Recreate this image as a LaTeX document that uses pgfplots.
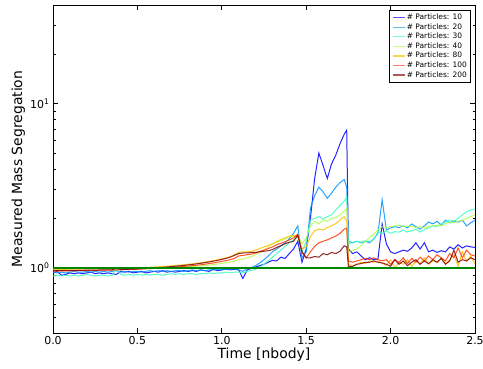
\documentclass[border=0pt]{standalone}
\usepackage{fontspec}
\setmainfont{DejaVu Sans}
\usepackage{pgfplots}
\usepackage{pgfplotstable}
\pgfplotsset{compat=1.18}
\definecolor{c10}{rgb}{0,0,1}
\definecolor{c20}{rgb}{0,0.58,1}
\definecolor{c30}{rgb}{0.22,1,0.75}
\definecolor{c40}{rgb}{0.69,1,0.28}
\definecolor{c80}{rgb}{1,0.75,0}
\definecolor{c100}{rgb}{1,0.21,0}
\definecolor{c200}{rgb}{0.5,0,0}
\definecolor{gline}{RGB}{0,135,0}
\pgfplotsset{legend image code/.code={\draw[#1, line width=1.3bp, opacity=0.65] (0bp,0bp) -- (12bp,0bp);}}
\pgfplotstableread{
t     p10  p20  p30  p40   p80   p100  p200
0.000 0.93 0.94 0.89 0.985 0.975 0.955 0.96
0.025 0.95 0.93 0.90 0.985 0.975 0.955 0.96
0.050 0.90 0.94 0.89 0.985 0.977 0.956 0.96
0.075 0.91 0.93 0.90 0.986 0.978 0.957 0.961
0.100 0.93 0.94 0.89 0.986 0.979 0.958 0.962
0.125 0.92 0.95 0.90 0.987 0.980 0.959 0.963
0.150 0.93 0.94 0.89 0.987 0.981 0.960 0.964
0.175 0.92 0.94 0.90 0.988 0.982 0.961 0.965
0.200 0.93 0.95 0.91 0.988 0.983 0.962 0.966
0.225 0.94 0.94 0.90 0.989 0.984 0.963 0.967
0.250 0.92 0.95 0.89 0.989 0.985 0.964 0.968
0.275 0.93 0.94 0.90 0.990 0.986 0.965 0.969
0.300 0.92 0.95 0.90 0.990 0.987 0.966 0.970
0.325 0.93 0.94 0.89 0.990 0.988 0.967 0.971
0.350 0.92 0.95 0.90 0.991 0.989 0.968 0.972
0.375 0.91 0.96 1.00 0.991 0.990 0.970 0.990
0.400 0.95 0.94 0.91 0.992 0.991 0.971 0.975
0.425 0.94 0.95 0.90 0.992 0.992 0.973 0.977
0.450 0.95 0.94 0.91 0.993 0.994 0.975 0.979
0.475 0.93 0.95 0.90 0.993 0.996 0.977 0.981
0.500 0.94 0.95 0.91 0.994 0.998 0.979 0.984
0.525 0.95 0.94 0.90 0.995 1.001 0.982 0.987
0.550 0.93 0.95 0.91 0.996 1.004 0.985 0.990
0.575 0.94 0.96 0.90 0.997 1.007 0.988 0.994
0.600 0.95 0.95 0.91 0.998 1.010 0.991 0.998
0.625 0.94 0.96 0.91 0.999 1.014 0.994 1.002
0.650 0.96 0.95 0.90 1.000 1.018 0.998 1.006
0.675 0.94 0.96 0.91 1.002 1.022 1.002 1.011
0.700 0.95 0.95 0.92 1.004 1.027 1.006 1.016
0.725 0.94 0.96 0.91 1.006 1.032 1.010 1.021
0.750 0.95 0.96 0.92 1.008 1.037 1.014 1.027
0.775 0.96 0.95 0.91 1.011 1.043 1.019 1.033
0.800 0.95 0.96 0.92 1.014 1.049 1.024 1.040
0.825 0.96 0.97 0.92 1.018 1.056 1.030 1.047
0.850 0.95 0.96 0.91 1.022 1.064 1.036 1.055
0.875 0.97 0.97 0.92 1.027 1.073 1.043 1.064
0.900 0.96 0.96 0.92 1.032 1.083 1.051 1.074
0.925 0.95 0.97 0.93 1.038 1.094 1.060 1.085
0.950 0.98 0.97 0.92 1.045 1.106 1.070 1.097
0.975 0.96 0.98 0.93 1.053 1.119 1.081 1.110
1.000 0.97 0.97 0.93 1.062 1.133 1.093 1.124
1.025 0.98 0.98 0.94 1.072 1.150 1.106 1.140
1.050 0.97 0.98 0.93 1.083 1.170 1.120 1.160
1.075 0.98 0.99 0.94 1.100 1.200 1.140 1.190
1.100 0.97 0.97 0.94 1.120 1.240 1.180 1.220
1.125 0.86 0.95 0.93 1.130 1.250 1.190 1.230
1.150 0.97 0.99 0.95 1.150 1.250 1.200 1.230
1.175 0.99 1.00 0.96 1.170 1.260 1.210 1.240
1.200 1.01 1.03 0.98 1.200 1.280 1.230 1.240
1.225 1.03 1.07 1.01 1.240 1.310 1.260 1.250
1.250 1.05 1.12 1.05 1.280 1.340 1.280 1.260
1.275 1.08 1.18 1.10 1.340 1.370 1.310 1.270
1.300 1.11 1.25 1.16 1.400 1.400 1.340 1.290
1.325 1.10 1.30 1.22 1.440 1.440 1.380 1.330
1.350 1.16 1.36 1.28 1.460 1.490 1.410 1.360
1.375 1.14 1.42 1.35 1.500 1.520 1.440 1.400
1.400 1.22 1.50 1.42 1.540 1.560 1.480 1.430
1.425 1.30 1.62 1.48 1.560 1.580 1.520 1.450
1.450 1.45 1.80 1.55 1.580 1.550 1.600 1.580
1.475 1.08 1.15 1.25 1.400 1.300 1.250 1.250
1.500 1.30 1.25 1.45 1.520 1.350 1.150 1.150
1.525 2.00 2.30 1.95 1.800 1.550 1.250 1.150
1.550 3.50 2.75 2.00 1.920 1.680 1.350 1.170
1.575 5.00 3.10 2.05 1.850 1.720 1.420 1.160
1.600 4.20 2.90 1.98 1.950 1.700 1.450 1.220
1.625 3.50 2.65 2.05 1.920 1.760 1.480 1.200
1.650 4.30 2.85 2.10 2.000 1.800 1.520 1.240
1.675 4.85 3.10 2.25 2.020 1.860 1.560 1.220
1.700 5.70 3.30 2.40 2.100 1.950 1.620 1.260
1.725 6.50 3.45 2.55 2.220 2.050 1.720 1.360
1.740 6.90 3.10 2.70 2.300 1.920 1.740 1.340
1.750 1.30 1.45 1.40 1.250 1.050 1.100 1.020
1.775 1.22 1.42 1.42 1.280 1.020 1.080 1.020
1.800 1.25 1.45 1.45 1.300 1.050 1.100 1.050
1.825 1.18 1.42 1.43 1.360 1.080 1.120 1.060
1.850 1.12 1.45 1.46 1.450 1.060 1.140 1.080
1.875 1.15 1.42 1.44 1.520 1.100 1.120 1.080
1.900 1.12 1.50 1.48 1.600 1.080 1.150 1.100
1.925 1.13 1.62 1.66 1.700 1.100 1.120 1.080
1.950 1.85 2.60 1.62 1.780 1.060 1.100 1.070
1.975 1.40 1.70 1.68 1.760 1.040 1.120 1.050
2.000 1.25 1.75 1.62 1.780 1.120 1.050 1.020
2.025 1.22 1.78 1.66 1.800 1.000 1.120 1.120
2.050 1.25 1.76 1.65 1.820 1.080 1.080 1.050
2.075 1.28 1.80 1.70 1.780 1.050 1.150 1.100
2.100 1.26 1.75 1.65 1.800 1.120 1.060 1.030
2.125 1.32 1.85 1.68 1.780 1.020 1.140 1.080
2.150 1.42 1.78 1.72 1.760 1.100 1.080 1.120
2.175 1.30 1.72 1.65 1.780 1.050 1.160 1.050
2.200 1.42 1.80 1.70 1.750 1.150 1.100 1.100
2.225 1.25 1.90 1.75 1.780 1.050 1.180 1.060
2.250 1.28 1.85 1.80 1.800 1.100 1.120 1.120
2.275 1.24 1.92 1.78 1.820 1.080 1.200 1.080
2.300 1.27 1.82 1.85 1.800 1.140 1.150 1.140
2.325 1.25 1.95 1.90 1.850 1.060 1.100 1.050
2.350 1.34 1.88 1.95 1.900 1.120 1.220 1.100
2.375 1.30 1.93 1.92 1.880 1.200 1.150 1.280
2.400 1.38 1.90 2.00 1.920 1.020 1.320 1.080
2.425 1.32 1.95 2.10 1.950 1.250 1.150 1.120
2.450 1.36 1.80 2.20 2.000 1.100 1.280 1.100
2.475 1.34 1.88 2.25 2.050 1.180 1.200 1.150
2.500 1.33 1.95 2.28 2.100 1.050 1.180 1.120
}\datatable
\begin{document}
\begin{tikzpicture}
\begin{axis}[
  scale only axis, width=422bp, height=328bp,
  ymode=log, xmin=0, xmax=2.5, ymin=0.4, ymax=40,
  axis line style={line width=0.9bp},
  /pgf/number format/assume math mode=true,
  xtick={0,0.5,1,1.5,2,2.5},
  xticklabel style={/pgf/number format/.cd, fixed, fixed zerofill, precision=1},
  ytick={1,10}, yticklabels={10\textsuperscript{0},10\textsuperscript{1}},
  minor ytick={0.4,0.5,0.6,0.7,0.8,0.9,2,3,4,5,6,7,8,9,20,30,40},
  major tick length=5bp, minor tick length=2.5bp,
  every tick/.style={black, line width=0.7bp},
  tick label style={font=\fontsize{11}{13}\selectfont},
  xlabel={Time [nbody]}, ylabel={Measured Mass Segregation},
  label style={font=\fontsize{14}{16}\selectfont},
  xlabel style={at={(axis description cs:0.5,0)}, anchor=north, yshift=-15bp, inner sep=0pt},
  ylabel style={at={(axis description cs:-0.066,0.5)}, anchor=south, inner sep=0pt},
  legend style={at={(rel axis cs:0.9905,0.985)}, anchor=north east,
    font=\fontsize{7.5}{8.5}\selectfont, line width=0.8bp,
    row sep=0bp, inner sep=2.5bp, nodes={inner sep=1.2bp}},
  legend cell align=left,
  every axis plot/.append style={line width=1bp, opacity=0.85},
]
\addplot[color=c10] table[x=t,y=p10] {\datatable};
\addlegendentry{\# Particles: 10}
\addplot[color=c20] table[x=t,y=p20] {\datatable};
\addlegendentry{\# Particles: 20}
\addplot[color=c30] table[x=t,y=p30] {\datatable};
\addlegendentry{\# Particles: 30}
\addplot[color=c40] table[x=t,y=p40] {\datatable};
\addlegendentry{\# Particles: 40}
\addplot[color=c80] table[x=t,y=p80] {\datatable};
\addlegendentry{\# Particles: 80}
\addplot[color=c100] table[x=t,y=p100] {\datatable};
\addlegendentry{\# Particles: 100}
\addplot[color=c200] table[x=t,y=p200] {\datatable};
\addlegendentry{\# Particles: 200}
\addplot[color=gline, line width=1.6bp, opacity=1, forget plot] table {
x y
0 1
2.5 1
};
\end{axis}
\pgfresetboundingbox
\path (current axis.south west) ++(-53bp,-36bp) coordinate (bl);
\path (current axis.north east) ++(8bp,5bp) coordinate (tr);
\path[use as bounding box] (bl) rectangle (tr);
\end{tikzpicture}
\end{document}
